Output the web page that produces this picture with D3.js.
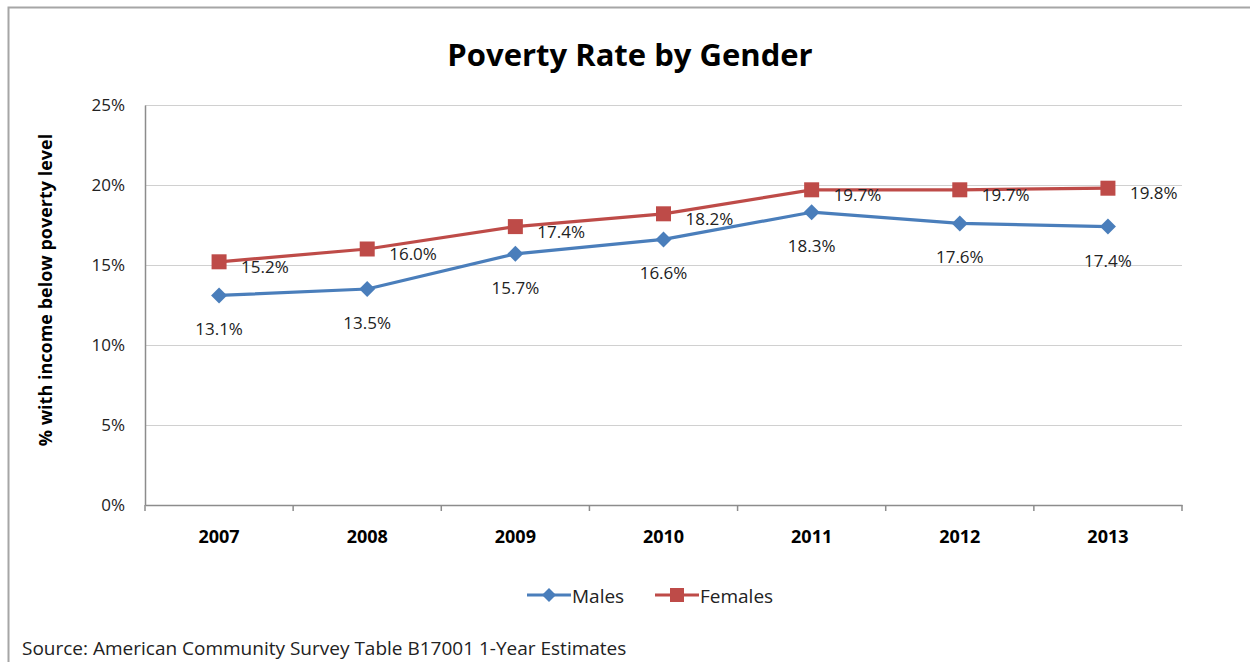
<!DOCTYPE html>
<html>
<head>
<meta charset="utf-8">
<script src="https://cdn.jsdelivr.net/npm/d3@7"></script>
<style>
  body { margin: 0; background: #fff; }
  svg { font-family: "Open Sans", Lato, sans-serif; }
</style>
</head>
<body>
<div id="chart"></div>
<script>
// data
var years = ["2007", "2008", "2009", "2010", "2011", "2012", "2013"];
var males = [13.1, 13.5, 15.7, 16.6, 18.3, 17.6, 17.4];
var females = [15.2, 16.0, 17.4, 18.2, 19.7, 19.7, 19.8];
var yTicks = [0, 5, 10, 15, 20, 25];

var width = 1250;
var height = 662;

var margin = {top: 105, left: 145, right: 68, bottom: 157};
var plotW = width - margin.left - margin.right;
var plotH = height - margin.top - margin.bottom;

var svg = d3.select('#chart')
    .append('svg')
    .attr('width', width)
    .attr('height', height);

// outer chart frame
svg.append('rect')
    .attr('x', 8.5)
    .attr('y', 7.5)
    .attr('width', width)
    .attr('height', height)
    .attr('fill', 'none')
    .attr('stroke', '#a6a6a6')
    .attr('stroke-width', 2);

svg.append('text')
    .attr('x', 630)
    .attr('y', 66)
    .attr('text-anchor', 'middle')
    .style('font-size', '31px')
    .style('font-weight', 'bold')
    .style('fill', '#000')
    .text('Poverty Rate by Gender');

var g = svg.append('g')
    .attr('transform', 'translate(' + margin.left + ',' + margin.top + ')');

var x = d3.scaleBand()
    .domain(years)
    .range([0, plotW]);

var y = d3.scaleLinear()
    .domain([0, 25])
    .range([plotH, 0]);

// gridlines
g.selectAll('.grid')
    .data(yTicks.filter(function(d) { return d > 0; }))
    .enter().append('line')
    .attr('class', 'grid')
    .attr('x1', 0)
    .attr('x2', plotW)
    .attr('y1', function(d) { return Math.round(y(d)) + 0.5; })
    .attr('y2', function(d) { return Math.round(y(d)) + 0.5; })
    .attr('stroke', '#d0d0d0')
    .attr('stroke-width', 1.2);

// y axis
var yAxis = d3.axisLeft(y)
    .tickValues(yTicks)
    .tickSize(0)
    .tickPadding(20)
    .tickFormat(function(d) { return d + '%'; });

var yg = g.append('g').call(yAxis);
yg.select('.domain').attr('stroke', '#8c8c8c').attr('stroke-width', 1.5);
yg.selectAll('text')
    .style('font-size', '17px')
    .style('fill', '#222')
    .style('font-family', '"Open Sans", sans-serif');

// x axis, ticks between categories
var xAxis = d3.axisBottom(x).tickSize(0).tickPadding(25);
var xg = g.append('g')
    .attr('transform', 'translate(0,' + plotH + ')')
    .call(xAxis);
xg.select('.domain').attr('stroke', '#8c8c8c').attr('stroke-width', 1.5);
xg.selectAll('text')
    .style('font-size', '18px')
    .style('font-weight', 'bold')
    .style('fill', '#000')
    .style('font-family', '"Open Sans", sans-serif');

var edges = years.map(function(d) { return x(d); }).concat([plotW]);
xg.selectAll('.xtick')
    .data(edges)
    .enter().append('line')
    .attr('class', 'xtick')
    .attr('x1', function(d) { return d; })
    .attr('x2', function(d) { return d; })
    .attr('y1', 0)
    .attr('y2', 6)
    .attr('stroke', '#8c8c8c')
    .attr('stroke-width', 1.5);

// y label
svg.append('text')
    .attr('transform', 'translate(52,' + 290 + ') rotate(-90)')
    .attr('text-anchor', 'middle')
    .style('font-size', '18px')
    .style('font-weight', 'bold')
    .style('fill', '#000')
    .text('% with income below poverty level');

var cx = function(i) { return x(years[i]) + x.bandwidth() / 2; };

var line = d3.line()
    .x(function(d, i) { return cx(i); })
    .y(function(d) { return y(d); });

var maleColor = '#4a7ebb';
var femaleColor = '#be4b48';

g.append('path')
    .datum(males)
    .attr('fill', 'none')
    .attr('stroke', maleColor)
    .attr('stroke-width', 3.2)
    .attr('stroke-linejoin', 'round')
    .attr('d', line);

g.append('path')
    .datum(females)
    .attr('fill', 'none')
    .attr('stroke', femaleColor)
    .attr('stroke-width', 3.2)
    .attr('stroke-linejoin', 'round')
    .attr('d', line);

var diamond = 'M0,-8L8,0L0,8L-8,0Z';

g.selectAll('.mpt')
    .data(males)
    .enter().append('path')
    .attr('class', 'mpt')
    .attr('d', diamond)
    .attr('transform', function(d, i) { return 'translate(' + cx(i) + ',' + y(d) + ')'; })
    .attr('fill', maleColor);

g.selectAll('.fpt')
    .data(females)
    .enter().append('rect')
    .attr('class', 'fpt')
    .attr('x', function(d, i) { return cx(i) - 7.5; })
    .attr('y', function(d) { return y(d) - 7.5; })
    .attr('width', 15)
    .attr('height', 15)
    .attr('fill', femaleColor);

// data labels
g.selectAll('.mlab')
    .data(males)
    .enter().append('text')
    .attr('class', 'mlab')
    .attr('x', function(d, i) { return cx(i); })
    .attr('y', function(d) { return y(d) + 40; })
    .attr('text-anchor', 'middle')
    .style('font-size', '17px')
    .style('fill', '#222')
    .text(function(d) { return d.toFixed(1) + '%'; });

g.selectAll('.flab')
    .data(females)
    .enter().append('text')
    .attr('class', 'flab')
    .attr('x', function(d, i) { return cx(i) + 22; })
    .attr('y', function(d) { return y(d) + 11; })
    .style('font-size', '17px')
    .style('fill', '#222')
    .text(function(d) { return d.toFixed(1) + '%'; });

// legend
var legend = [
    {name: 'Males', color: maleColor, x: 527},
    {name: 'Females', color: femaleColor, x: 655}
];
var lg = svg.selectAll('.legend')
    .data(legend)
    .enter().append('g')
    .attr('class', 'legend')
    .attr('transform', function(d) { return 'translate(' + d.x + ',595)'; });

lg.append('line')
    .attr('x1', 0).attr('x2', 44)
    .attr('stroke', function(d) { return d.color; })
    .attr('stroke-width', 3.2);

lg.each(function(d, i) {
    var s = d3.select(this);
    if (i === 0) {
        s.append('path').attr('d', 'M0,-7L7,0L0,7L-7,0Z')
            .attr('transform', 'translate(22,0)')
            .attr('fill', d.color);
    } else {
        s.append('rect').attr('x', 15).attr('y', -7).attr('width', 14).attr('height', 14)
            .attr('fill', d.color);
    }
});

lg.append('text')
    .attr('x', 45)
    .attr('y', 8)
    .style('font-size', '19px')
    .style('fill', '#222')
    .text(function(d) { return d.name; });

svg.append('text')
    .attr('x', 22)
    .attr('y', 655)
    .style('font-size', '19px')
    .style('fill', '#222')
    .text('Source: American Community Survey Table B17001 1-Year Estimates');
</script>
</body>
</html>
